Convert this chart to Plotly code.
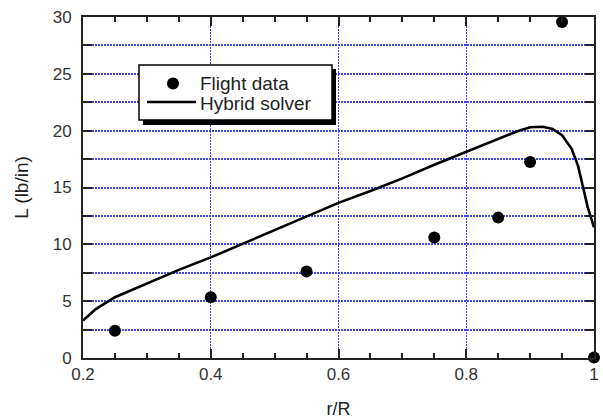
import plotly.graph_objects as go

# Measured section lift along the blade
flight_r = [0.25, 0.40, 0.55, 0.75, 0.85, 0.90, 0.95, 1.00]
flight_L = [2.4, 5.35, 7.6, 10.6, 12.35, 17.25, 29.55, 0.05]

# Hybrid solver prediction
solver_r = [0.20, 0.22, 0.25, 0.30, 0.35, 0.40, 0.45, 0.50, 0.55, 0.60, 0.65,
            0.70, 0.75, 0.80, 0.85, 0.88, 0.90, 0.92, 0.935, 0.95, 0.965,
            0.975, 0.983, 0.99, 1.00]
solver_L = [3.3, 4.3, 5.35, 6.55, 7.75, 8.85, 10.05, 11.2, 12.4, 13.65, 14.7,
            15.8, 17.0, 18.15, 19.25, 19.95, 20.3, 20.35, 20.15, 19.6, 18.4,
            16.9, 15.0, 13.3, 11.5]

x_ticks = [0.2, 0.4, 0.6, 0.8, 1.0]
y_ticks = [0, 5, 10, 15, 20, 25, 30]
legend_labels = ["Flight data", "Hybrid solver"]

W, H = 603, 420
ML, MR, MT, MB = 83, 9, 17, 62
PW, PH = W - ML - MR, H - MT - MB


def px(x):
    return (x - ML) / PW


def py(y):
    return (H - MB - y) / PH


FONT = "Arial, Liberation Sans, sans-serif"
GRID = "#4646ff"
GRID_DASH = "2px,1px"
AX = "#222222"

fig = go.Figure()
fig.add_trace(go.Scatter(x=solver_r, y=solver_L, mode="lines",
                         line=dict(color="black", width=2.6),
                         name=legend_labels[1], showlegend=False))
fig.add_trace(go.Scatter(x=flight_r, y=flight_L, mode="markers",
                         marker=dict(color="black", size=12),
                         name=legend_labels[0], showlegend=False,
                         cliponaxis=False))

axis_common = dict(
    showline=True, linecolor=AX, linewidth=2, mirror="ticks",
    ticks="inside", tickcolor=AX, tickwidth=1.5,
    showgrid=True, gridcolor=GRID, griddash=GRID_DASH,
    zeroline=False, automargin=False,
    tickfont=dict(family=FONT, size=17, color="#333333"),
)

fig.update_xaxes(
    range=[0.2, 1.0], tickvals=x_ticks, ticklen=9, gridwidth=1,
    minor=dict(dtick=0.05, ticks="inside", ticklen=5, tickcolor=AX,
               showgrid=False),
    title=dict(text="r/R", font=dict(family=FONT, size=18, color="#222222"),
               standoff=19),
    **axis_common,
)
fig.update_yaxes(
    range=[0, 30], tickvals=y_ticks, ticklen=9, gridwidth=1.5,
    minor=dict(dtick=2.5, ticks="inside", ticklen=9, tickcolor=AX,
               showgrid=True, gridcolor=GRID, griddash=GRID_DASH,
               gridwidth=1.5),
    ticklabelstandoff=6,
    title=dict(text="L (lb/in)", font=dict(family=FONT, size=19, color="#222222"),
               standoff=19),
    **axis_common,
)

# Legend box with a drop shadow
shapes = [
    dict(type="rect", xref="paper", yref="paper", layer="above",
         x0=px(143), x1=px(336), y0=py(69), y1=py(125),
         fillcolor="black", line=dict(width=0)),
    dict(type="rect", xref="paper", yref="paper", layer="above",
         x0=px(139), x1=px(332), y0=py(65), y1=py(120),
         fillcolor="white", line=dict(color="black", width=1.5)),
    dict(type="circle", xref="paper", yref="paper", layer="above",
         x0=px(167), x1=px(179), y0=py(77.5), y1=py(89.5),
         fillcolor="black", line=dict(width=0)),
    dict(type="line", xref="paper", yref="paper", layer="above",
         x0=px(147), x1=px(196), y0=py(102), y1=py(102),
         line=dict(color="black", width=2.6)),
]
annotations = [
    dict(text=legend_labels[0], xref="paper", yref="paper", x=px(199), y=py(83),
         xanchor="left", yanchor="middle", showarrow=False, borderpad=0,
         font=dict(family=FONT, size=19, color="#222222")),
    dict(text=legend_labels[1], xref="paper", yref="paper", x=px(199), y=py(103),
         xanchor="left", yanchor="middle", showarrow=False, borderpad=0,
         font=dict(family=FONT, size=19, color="#222222")),
]

fig.update_layout(
    width=W, height=H,
    margin=dict(l=ML, r=MR, t=MT, b=MB),
    paper_bgcolor="white", plot_bgcolor="white",
    shapes=shapes, annotations=annotations,
    showlegend=False,
)

fig.write_html("out.html")
